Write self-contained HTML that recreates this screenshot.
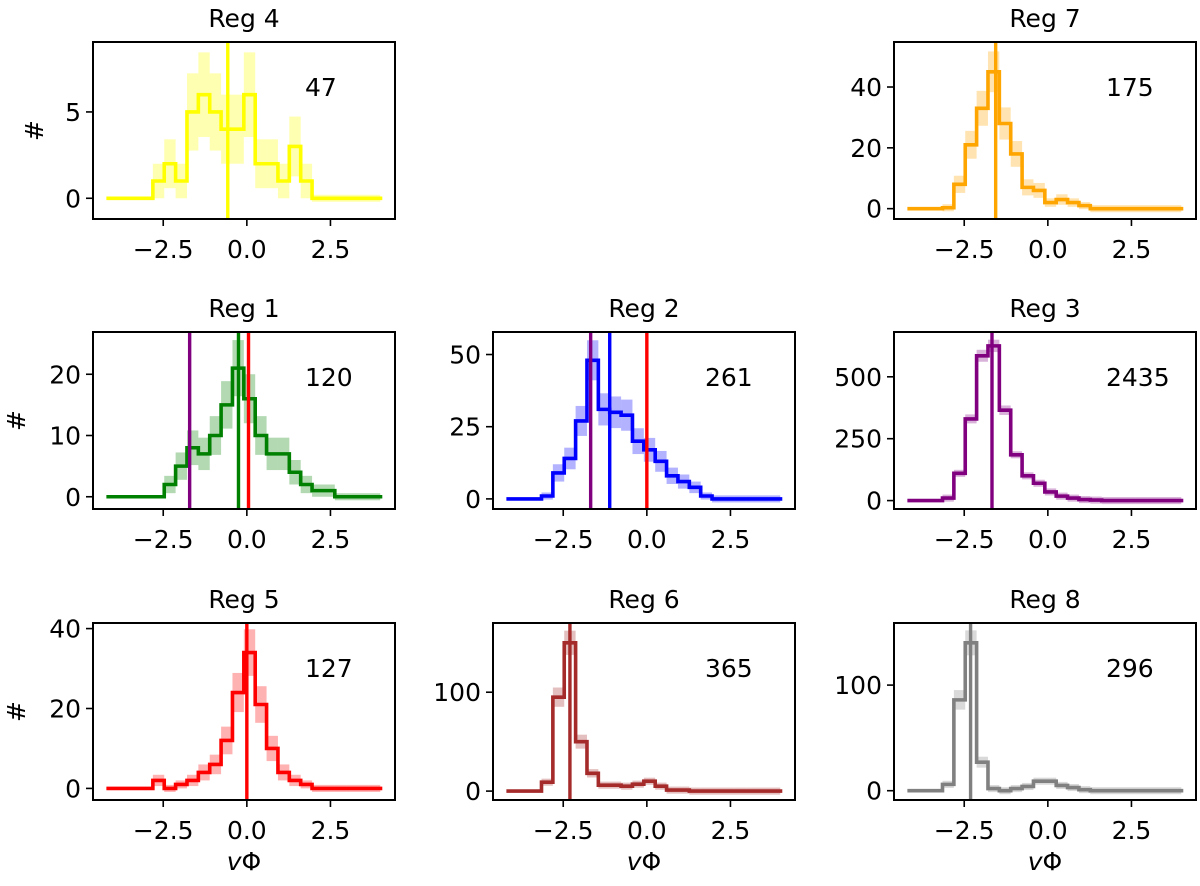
<!DOCTYPE html>
<html><head><meta charset="utf-8"><style>
body{margin:0;background:#fff;}
svg text{font-family:"DejaVu Sans","Liberation Sans",sans-serif;}
</style></head><body>
<svg id="fig" width="1200" height="881" viewBox="0 0 1200 881" xmlns="http://www.w3.org/2000/svg"></svg>
<script>
// bin edges: start + k*width
const binStart = -4.17;
const binWidth = 0.34;
const xTicks = [-2.5, 0, 2.5];
const xTickLabels = ["\u22122.5", "0.0", "2.5"];
const regNames = ["Reg 4","Reg 7","Reg 1","Reg 2","Reg 3","Reg 5","Reg 6","Reg 8"];
const regCounts = ["47","175","120","261","2435","127","365","296"];
const reg4 = [0,0,0,0,1,2,1,5,6,5,4,4,6,2,2,1,3,1,0,0,0,0,0,0];
const reg7 = [0,0,0,0.3,8,21,33,45,28,18,7,6,2,3,2,1,0,0,0,0,0,0,0,0];
const reg1 = [0,0,0,0,0,2,5,8,7,10,15,21,16,10,7,7,4,2,1,1,0,0,0,0];
const reg2 = [0,0,0,1,9,14,27,48,31,30,29,20,17,13,8,6,4,1,0,0,0,0,0,0];
const reg3 = [0,0,0,10,110,330,585,625,365,185,100,70,35,18,10,4,2,0,0,0,0,0,0,0];
const reg5 = [0,0,0,0,2,0,1,2,4,6,12,24,34,21,10,4,2,1,0,0,0,0,0,0];
const reg6 = [0,0,0,9,95,150,50,18,6,6,5,7,10,5,1,1,0,0,0,0,0,0,0,0];
const reg8 = [0,0,0,6,86,140,27,2,0,2,4,9,9,5,3,1,0,0,0,0,0,0,0,0];
const regValues = [reg4,reg7,reg1,reg2,reg3,reg5,reg6,reg8];
const regColors = ["#ffff00","#ffa500","#008000","#0000ff","#800080","#ff0000","#a52a2a","#808080"];
const vlines4 = [-0.57];
const vlines7 = [-1.56];
const vlines1 = [-1.71,-0.25,0.05];
const vlines2 = [-1.68,-1.11,0.0];
const vlines3 = [-1.67];
const vlines5 = [0.0];
const vlines6 = [-2.3];
const vlines8 = [-2.31];
const regVlines = [vlines4,vlines7,vlines1,vlines2,vlines3,vlines5,vlines6,vlines8];
const vlineColors = [["#ffff00"],["#ffa500"],["#800080","#008000","#ff0000"],["#800080","#0000ff","#ff0000"],["#800080"],["#ff0000"],["#a52a2a"],["#808080"]];
const yTicks4 = [0,5], yTicks7=[0,20,40], yTicks1=[0,10,20], yTicks2=[0,25,50], yTicks3=[0,250,500], yTicks5=[0,20,40], yTicks6=[0,100], yTicks8=[0,100];
const regYTicks = [yTicks4,yTicks7,yTicks1,yTicks2,yTicks3,yTicks5,yTicks6,yTicks8];
const regYLim = [[-1.2,9.05],[-3.4,54.8],[-2.0,26.9],[-3.5,57.8],[-34,681],[-2.9,41.4],[-9,170],[-8.8,158.8]];
// layout
const colLeft = [93, 493, 894];
const rowTop = [42, 332, 623];
const axW = 302, axH = 177;
const panelPos = [[0,0],[2,0],[0,1],[1,1],[2,1],[0,2],[1,2],[2,2]];
const yTitleX = [35, 17, 17];
const xLim = [-4.6, 4.43];

const NS = "http://www.w3.org/2000/svg";
const svg = document.getElementById('fig');
function mk(tag, attrs, parent){
  const e = document.createElementNS(NS, tag);
  for (const k in attrs) e.setAttribute(k, attrs[k]);
  (parent||svg).appendChild(e); return e;
}
function slug(s){return s.toLowerCase().replace(/\s+/g,'-');}

regNames.forEach((name, i) => {
  const [c, r] = panelPos[i];
  const L = colLeft[c], T = rowTop[r];
  const ylim = regYLim[i];
  const xs = v => L + (v - xLim[0]) / (xLim[1] - xLim[0]) * axW;
  const ys = v => T + axH - (v - ylim[0]) / (ylim[1] - ylim[0]) * axH;
  const g = mk('g', {});
  
  
  const clipId = 'clip' + i;
  const cp = mk('clipPath', {id: clipId}, g);
  mk('rect', {x: L, y: T, width: axW, height: axH}, cp);
  const plot = mk('g', {'clip-path': 'url(#' + clipId + ')'}, g);
  const vals = regValues[i];
  const col = regColors[i];
  const firstNZ = vals.findIndex(v => v > 0);
  // error bands
  vals.forEach((v, k) => {
    if (k < firstNZ) return;
    const e = Math.max(Math.sqrt(v), 0.02 * (ylim[1] - ylim[0]));
    const x0 = binStart + k * binWidth, x1 = x0 + binWidth;
    const rct = mk('rect', {x: xs(x0), y: ys(v + e), width: xs(x1) - xs(x0), height: ys(v - e) - ys(v + e), fill: col, 'fill-opacity': 0.3}, plot);
    
    
  });
  // step line
  let d = 'M' + xs(-4.2) + ' ' + ys(vals[0]);
  vals.forEach((v, k) => {
    const x0 = binStart + k * binWidth, x1 = x0 + binWidth;
    d += ' L' + xs(x0) + ' ' + ys(v) + ' L' + xs(x1) + ' ' + ys(v);
  });
  d += ' L' + xs(4.05) + ' ' + ys(vals[vals.length - 1]);
  const line = mk('path', {d: d, fill: 'none', stroke: col, 'stroke-width': 3.6, 'stroke-linejoin': 'miter'}, plot);
  
  
  // vertical lines
  regVlines[i].forEach((xv, j) => {
    const vl = mk('line', {x1: xs(xv), x2: xs(xv), y1: T, y2: T + axH, stroke: vlineColors[i][j], 'stroke-width': 3.4}, plot);
    
    
  });
  // frame
  const fr = mk('rect', {x: L, y: T, width: axW, height: axH, fill: 'none', stroke: '#000', 'stroke-width': 2}, g);
  
  
  // x ticks
  xTicks.forEach((t, j) => {
    const x = xs(t);
    mk('line', {x1: x, x2: x, y1: T + axH, y2: T + axH + 7, stroke: '#000', 'stroke-width': 1.6}, g);
    const tl = mk('text', {x: x, y: T + axH + 39, 'font-size': 25, 'text-anchor': 'middle'}, g);
    tl.textContent = xTickLabels[j];
    
    
  });
  // y ticks
  regYTicks[i].forEach(t => {
    const y = ys(t);
    mk('line', {x1: L - 7, x2: L, y1: y, y2: y, stroke: '#000', 'stroke-width': 1.6}, g);
    const tl = mk('text', {x: L - 12, y: y + 9, 'font-size': 25, 'text-anchor': 'end'}, g);
    tl.textContent = String(t);
    
    
  });
  // title
  const ti = mk('text', {x: L + axW / 2, y: T - 15, 'font-size': 25, 'text-anchor': 'middle'}, g);
  ti.textContent = name;
  
  
  // count annotation
  const ct = mk('text', {x: L + 212, y: T + 54, 'font-size': 25}, g);
  ct.textContent = regCounts[i];
  
  
  // y label
  if (c === 0) {
    const yl = mk('text', {x: 0, y: 0, 'font-size': 25, 'text-anchor': 'middle', transform: 'translate(' + (yTitleX[r] + 8) + ',' + (T + axH / 2) + ') rotate(-90)'}, g);
    yl.textContent = '#';
    
    
  }
  // x label
  if (r === 2) {
    const xl = mk('text', {x: L + axW / 2, y: T + axH + 70, 'font-size': 25, 'text-anchor': 'middle'}, g);
    const tv = mk('tspan', {'font-style': 'italic'}, xl); tv.textContent = 'v';
    const tp = mk('tspan', {}, xl); tp.textContent = '\u03A6';
    
    
  }
});
</script>
</body></html>
